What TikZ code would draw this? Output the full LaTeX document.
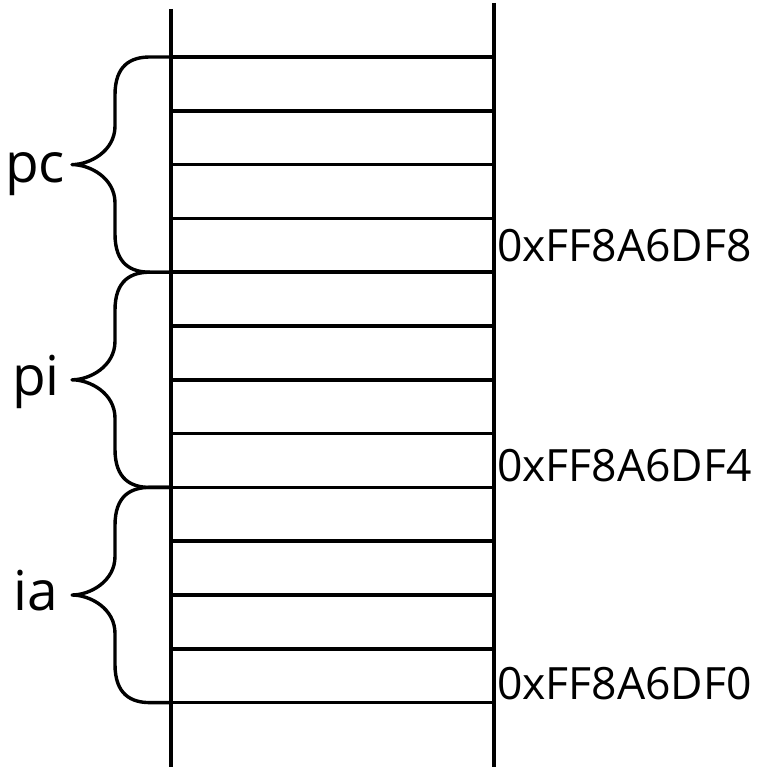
\documentclass[tikz,border=0pt]{standalone}
\usepackage{fontspec}
\setmainfont{Open Sans}
\begin{document}
\begin{tikzpicture}[x=1pt, y=-1pt,
  rule/.style={line width=3.6pt, black},
  braceline/.style={line width=3.4pt, black, line join=round},
  varname/.style={font=\fontsize{55}{60}\selectfont, inner sep=0pt, anchor=base west},
  addr/.style={font=\fontsize{44.5}{50}\selectfont, inner sep=0pt, anchor=base west},
  % curly brace spanning four cells (4 x 53.8), opening to the right
  membrace/.pic={
    \draw[braceline] (0,0) -- (-21,0)
      .. controls (-40,0) and (-56,8) .. (-56,38) -- (-56,69)
      .. controls (-56,94) and (-81,107.6) .. (-99,107.6)
      .. controls (-81,107.6) and (-56,121) .. (-56,146) -- (-56,177)
      .. controls (-56,207) and (-40,215.2) .. (-21,215.2) -- (0,215.2);
    \coordinate (-tip) at (-99,107.6);
  }]
\useasboundingbox (0,0) rectangle (758,773);

% memory cells: 12 byte rows between two vertical rails
\foreach \i in {0,...,12}{
  \pgfmathsetmacro\yy{57+53.8*\i}
  \coordinate (L\i) at (171,\yy);
  \coordinate (R\i) at (494,\yy);
  \draw[rule] (L\i) -- (R\i);
}
\coordinate (LT) at (171,9);
\coordinate (LB) at (171,767);
\coordinate (RT) at (494,3);
\coordinate (RB) at (494,767);
\draw[rule] (LT) -- (LB);
\draw[rule] (RT) -- (RB);

% braces grouping the variables
\pic (pc) at (L0) {membrace};
\pic (pi) at (L4) {membrace};
\pic (ia) at (L8) {membrace};

% variable names
\node[varname] (pcname) at (5,182) {pc};
\node[varname] (piname) at (12,395) {pi};
\node[varname] (ianame) at (13,610) {ia};

% addresses
\node[addr] (a8) at (497,261) {0xFF8A6DF8};
\node[addr] (a4) at (497,481) {0xFF8A6DF4};
\node[addr] (a0) at (497,699) {0xFF8A6DF0};
\end{tikzpicture}
\end{document}
